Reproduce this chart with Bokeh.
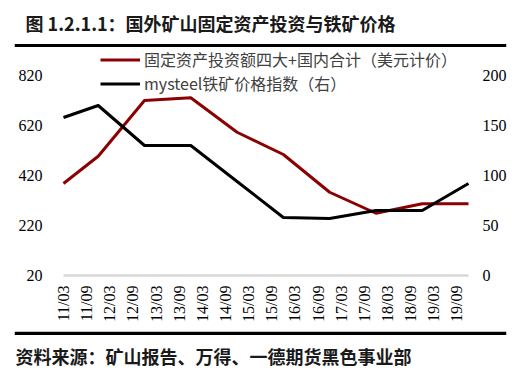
import math
from bokeh.plotting import figure
from bokeh.models import (Range1d, LinearAxis, FixedTicker, Legend, LegendItem,
                          Label, BoxAnnotation)
from bokeh.embed import file_html
from bokeh.resources import INLINE

# ---- data ----
dates = ["2011-03", "2011-12", "2012-12", "2013-12", "2014-12",
         "2015-12", "2016-12", "2017-12", "2018-12", "2019-12"]
capex = [388, 497, 720, 731, 593, 504, 353, 269, 307, 307]          # left axis
ore_index = [158, 170, 130, 130, 94, 58, 57, 65, 65, 92]            # right axis
tick_labels = ["11/03", "11/09", "12/03", "12/09", "13/03", "13/09",
               "14/03", "14/09", "15/03", "15/09", "16/03", "16/09",
               "17/03", "17/09", "18/03", "18/09", "19/03", "19/09"]
left_ticks = [20, 220, 420, 620, 820]
right_ticks = [0, 50, 100, 150, 200]
series_names = ["固定资产投资额四大+国内合计（美元计价）", "mysteel铁矿价格指数（右）"]
title_text = "图 1.2.1.1：国外矿山固定资产投资与铁矿价格"
source_text = "资料来源：矿山报告、万得、一德期货黑色事业部"

# ---- layout (pixels) ----
W, H = 527, 387
FX0, FX1 = 14, 506              # frame, left/right page px
PLOT_X0, PLOT_X1 = 63, 468      # page px of first / last month
PLOT_YTOP, PLOT_YBOT = 75, 275  # page px of top / bottom tick
CJK = "Noto Sans CJK SC"
TICK_FONT = "Liberation Serif"


def month_index(d):
    y, m = d.split("-")
    return (int(y) - 2011) * 12 + int(m) - 3


xs = [month_index(d) for d in dates]
tick_pos = [month_index("20" + t.replace("/", "-")) for t in tick_labels]

# linear maps: page px -> data
x_first, x_last = 0, 105
ppm = (PLOT_X1 - PLOT_X0) / (x_last - x_first)
x_start = x_first - (PLOT_X0 - FX0) / ppm
x_end = x_last + (FX1 - PLOT_X1) / ppm


def y_limits(lo, hi):
    upp = (hi - lo) / (PLOT_YBOT - PLOT_YTOP)
    return lo - (H - PLOT_YBOT) * upp, hi + PLOT_YTOP * upp


p = figure(width=W, height=H, output_backend="svg", toolbar_location=None,
           x_range=Range1d(x_start, x_end),
           y_range=Range1d(*y_limits(left_ticks[0], left_ticks[-1])),
           min_border_left=FX0, min_border_right=W - FX1,
           min_border_top=0, min_border_bottom=0)
p.outline_line_color = None
p.xgrid.visible = False
p.ygrid.visible = False
p.background_fill_color = "white"
p.border_fill_color = "white"

p.extra_y_ranges = {"right": Range1d(*y_limits(right_ticks[0], right_ticks[-1])),
                    "py": Range1d(H, 0)}
p.extra_x_ranges = {"px": Range1d(FX0, FX1)}
raxis = LinearAxis(y_range_name="right")
p.add_layout(raxis, "right")

xa = p.xaxis[0]
for ax in (p.yaxis[0], raxis, xa):
    ax.axis_line_color = None
    ax.major_tick_line_color = None
    ax.minor_tick_line_color = None
    ax.major_tick_out = 0
    ax.major_tick_in = 0
    ax.minor_tick_out = 0
    ax.minor_tick_in = 0
    ax.major_label_text_font = TICK_FONT
    ax.major_label_text_font_size = "16px"
    ax.major_label_text_color = "black"

p.yaxis[0].ticker = FixedTicker(ticks=left_ticks)
raxis.ticker = FixedTicker(ticks=right_ticks)
p.yaxis[0].major_label_standoff = -(42 - FX0)
raxis.major_label_standoff = -(FX1 - 482)

xa.ticker = FixedTicker(ticks=tick_pos)
xa.major_label_overrides = {pos: lab for pos, lab in zip(tick_pos, tick_labels)}
xa.major_label_orientation = math.pi / 2
xa.major_label_standoff = -(H - 285)

# category-axis baseline (light grey) at the lowest left tick
p.add_layout(BoxAnnotation(left=x_first, right=x_last,
                           bottom=left_ticks[0] - 5, top=left_ticks[0] + 5,
                           fill_color="#d9d9d9", fill_alpha=1, line_alpha=0))

r1 = p.line(xs, capex, line_color="#8b0000", line_width=3, line_join="round")
r2 = p.line(xs, ore_index, y_range_name="right", line_color="black",
            line_width=3, line_join="round")

legend = Legend(items=[LegendItem(label=series_names[0], renderers=[r1]),
                       LegendItem(label=series_names[1], renderers=[r2])],
                location=(100 - FX0, H - 95))
legend.glyph_width = 40
legend.glyph_height = 19
legend.label_height = 19
legend.spacing = 0
legend.padding = 0
legend.margin = 0
legend.label_standoff = 4
legend.border_line_alpha = 0
legend.background_fill_alpha = 0
legend.label_text_font = CJK
legend.label_text_font_size = "16px"
legend.label_text_color = "#404040"
p.add_layout(legend)

# header / footer in page-pixel coordinates
p.add_layout(Label(x=25, y=22.5, x_range_name="px", y_range_name="py",
                   text=title_text, text_font=CJK, text_font_size="18px",
                   text_font_style="bold", text_baseline="middle",
                   text_color="#1a1a1a"))
p.add_layout(Label(x=15, y=355, x_range_name="px", y_range_name="py",
                   text=source_text, text_font=CJK, text_font_size="18px",
                   text_font_style="bold", text_baseline="middle",
                   text_color="#1a1a1a"))
for (y0, y1) in ((43.5, 46.5), (331.2, 334.4)):
    p.add_layout(BoxAnnotation(left=FX0, right=FX1, top=y0, bottom=y1,
                               x_range_name="px", y_range_name="py",
                               fill_color="black", fill_alpha=1, line_alpha=0))

open("out.html", "w").write(file_html(p, INLINE))
